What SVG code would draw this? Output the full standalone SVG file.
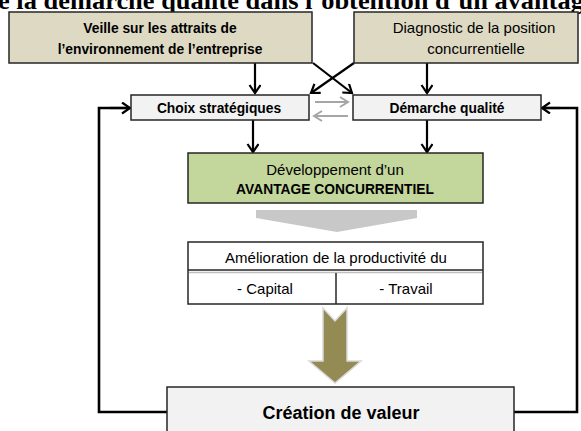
<svg xmlns="http://www.w3.org/2000/svg" width="581" height="431" viewBox="0 0 581 431">
  <defs>
    <marker id="head" markerUnits="userSpaceOnUse" markerWidth="14" markerHeight="14" refX="10" refY="6" orient="auto">
      <path d="M2,0.5 L10,6 L2,11.5" fill="none" stroke="#000" stroke-width="2.2"/>
    </marker>
    <marker id="headGrey" markerUnits="userSpaceOnUse" markerWidth="14" markerHeight="14" refX="10" refY="6" orient="auto">
      <path d="M2,1 L10,6 L2,11" fill="none" stroke="#A6A6A6" stroke-width="2"/>
    </marker>
    <style>
      .box { stroke: #262626; stroke-width: 1.5; }
      .khaki { fill: #DDD9C3; }
      .pale { fill: #F2F2F2; }
      .green { fill: #C3D69B; }
      .white { fill: #FFFFFF; }
      .t { font-family: "Liberation Sans", Arial, sans-serif; fill: #000; text-anchor: middle; font-size: 15px; }
      .b { font-weight: bold; font-size: 13.8px; }
      .link { fill: none; stroke: #000; stroke-width: 2.2; marker-end: url(#head); }
      .loop { fill: none; stroke: #000; stroke-width: 2.6; }
      .grey { fill: none; stroke: #A6A6A6; stroke-width: 2; marker-end: url(#headGrey); }
    </style>
  </defs>

  <rect width="581" height="431" fill="#FFFFFF"/>

  <!-- title line, cut off by the frame -->
  <text x="-2" y="9" font-family="'Liberation Serif', 'Times New Roman', serif" font-weight="bold" font-size="25" textLength="586" lengthAdjust="spacingAndGlyphs">e la démarche qualité dans l’obtention d’un avantag</text>

  <g id="connectors">
    <path class="link" d="M255,63 V93"/>
    <path class="link" d="M427,63 V93"/>
    <path class="link" d="M313,63 L352,93"/>
    <path class="link" d="M354,63 L311,93"/>
    <path class="link" d="M253,120 V152"/>
    <path class="link" d="M427,120 V152"/>
    <path class="grey" d="M315,102 H348"/>
    <path class="grey" d="M348,116 H314"/>
    <path class="loop" d="M167,412 H99 V108 H128"/>
    <path class="link" d="M110,108 H130"/>
    <path class="loop" d="M514,412 H577 V108 H546"/>
    <path class="link" d="M560,108 H542"/>
  </g>

  <g id="veille">
    <rect class="box khaki" x="9" y="12" width="303" height="51"/>
    <text class="t b" x="160" y="33">Veille sur les attraits de</text>
    <text class="t b" x="160" y="54">l’environnement de l’entreprise</text>
  </g>

  <g id="diagnostic">
    <rect class="box khaki" x="354" y="12" width="224" height="51"/>
    <text class="t" x="474" y="33">Diagnostic de la position</text>
    <text class="t" x="476" y="54">concurrentielle</text>
  </g>

  <g id="choix">
    <rect class="box pale" x="131" y="95" width="178" height="25"/>
    <text class="t b" x="219" y="112.5">Choix stratégiques</text>
  </g>

  <g id="demarche">
    <rect class="box pale" x="353" y="95" width="188" height="25"/>
    <text class="t b" x="447" y="112.5">Démarche qualité</text>
  </g>

  <g id="avantage">
    <rect class="box green" x="188" y="153" width="295" height="50"/>
    <text class="t" x="335" y="175">Développement d’un</text>
    <text class="t b" x="335" y="194">AVANTAGE CONCURRENTIEL</text>
  </g>

  <g id="chevron">
    <polygon points="256,210 417,210 417,218 337,232 256,218" fill="#C8C8C8"/>
  </g>

  <g id="amelioration">
    <rect class="box white" x="188" y="242" width="295" height="62"/>
    <line x1="188" y1="270" x2="483" y2="270" stroke="#262626" stroke-width="1.5"/>
    <line x1="189" y1="272.5" x2="482" y2="272.5" stroke="#BFBFBF" stroke-width="1.5"/>
    <line x1="336" y1="273" x2="336" y2="304" stroke="#262626" stroke-width="1.5"/>
    <text class="t" x="336" y="263">Amélioration de la productivité du</text>
    <text class="t" x="265" y="294">- Capital</text>
    <text class="t" x="406" y="294">- Travail</text>
  </g>

  <g id="fleche">
    <polygon points="323,308 335,321 347,308 347,361 361,361 335,383 309,361 323,361" fill="#948A54" stroke="#D9D9D9" stroke-width="1.5"/>
  </g>

  <g id="valeur">
    <rect class="box pale" x="167" y="387" width="347" height="60"/>
    <text class="t b" x="341" y="419" style="font-size:18px">Création de valeur</text>
  </g>
</svg>
